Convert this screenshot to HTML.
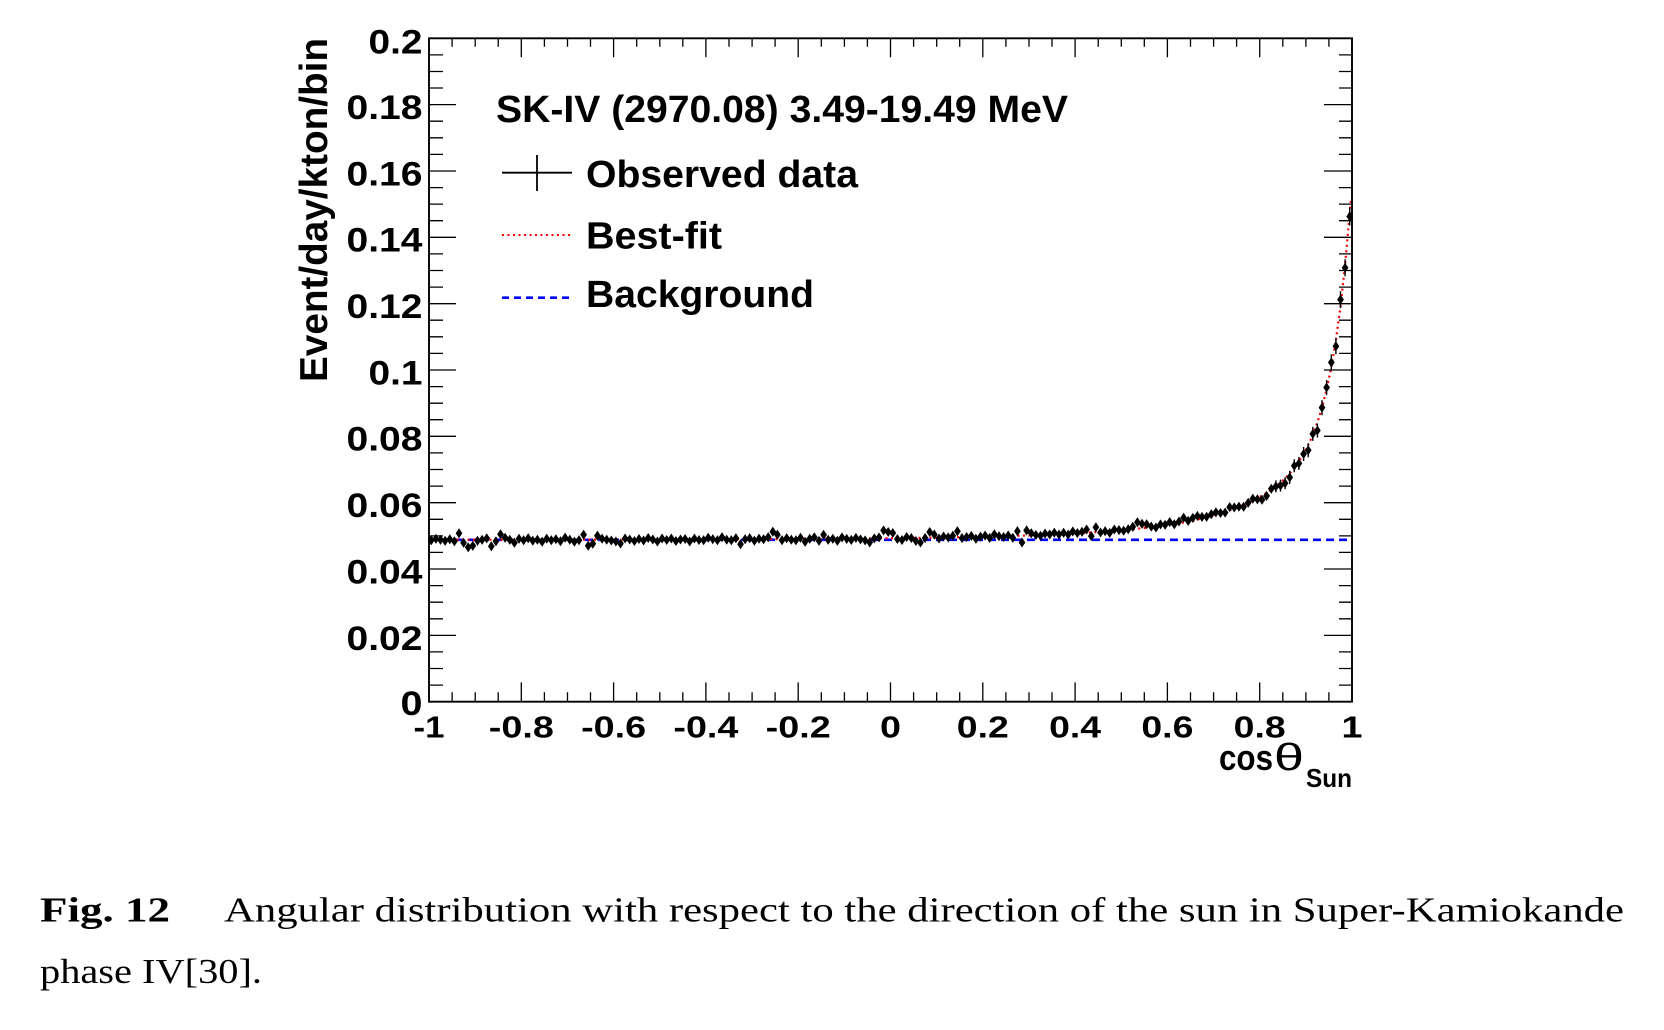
<!DOCTYPE html>
<html>
<head>
<meta charset="utf-8">
<style>
html,body{margin:0;padding:0;background:#fff;}
svg{display:block;}
.t{font-family:"Liberation Sans",Arial,sans-serif;font-weight:bold;fill:#000;}
.c{font-family:"Liberation Serif","Times New Roman",serif;fill:#000;}
</style>
</head>
<body>
<svg width="1664" height="1030" viewBox="0 0 1664 1030" xmlns="http://www.w3.org/2000/svg">
<defs>
<path id="m" d="M0 -4.5L3 0L0 4.5L-3 0Z" fill="#000" stroke="#000" stroke-width="0.6"/>
</defs>
<rect x="0" y="0" width="1664" height="1030" fill="#fff"/>

<!-- background dashed -->
<path d="M429 539.8H1352" stroke="#0000ff" stroke-width="2.6" stroke-dasharray="8 5" fill="none"/>
<!-- best fit dotted -->
<path d="M429 539.8L708.2 539.4L800.5 539.0L892.8 538.2L939 537.6L985.1 536.7L1031.3 535.4L1077.4 533.4L1100.5 531.8L1123.6 530.1L1146.6 527.8L1169.7 524.8L1192.8 520.9L1211.3 515.7L1215.9 514.3L1220.5 513.0L1225.1 511.6L1229.7 510.1L1234.3 508.4L1238.9 506.7L1243.6 504.8L1248.2 502.8L1252.8 500.7L1257.4 498.3L1262.0 495.7L1266.6 492.9L1271.3 489.8L1275.9 486.4L1280.5 482.6L1285.1 478.3L1289.7 473.4L1294.3 467.8L1298.9 461.4L1303.6 454.0L1308.2 445.2L1312.8 434.9L1317.4 422.5L1322.0 407.6L1326.6 389.5L1331.3 367.4L1335.9 340.2L1340.5 306.6L1345.1 264.8L1349.7 212.5L1351 200" stroke="#ff0000" stroke-width="2.2" stroke-dasharray="2 3.5" fill="none"/>

<!-- data markers -->
<path fill="#000" stroke="#000" stroke-width="0.6" d="M431.3 540.3m0-4.5l3 4.5-3 4.5-3-4.5zM435.9 538.8m0-4.5l3 4.5-3 4.5-3-4.5zM440.5 539.8m0-4.5l3 4.5-3 4.5-3-4.5zM445.1 540.8m0-4.5l3 4.5-3 4.5-3-4.5zM449.8 539.3m0-4.5l3 4.5-3 4.5-3-4.5zM454.4 541.3m0-4.5l3 4.5-3 4.5-3-4.5zM459.0 533.3m0-4.5l3 4.5-3 4.5-3-4.5zM463.6 542.8m0-4.5l3 4.5-3 4.5-3-4.5zM468.2 547.3m0-4.5l3 4.5-3 4.5-3-4.5zM472.8 545.8m0-4.5l3 4.5-3 4.5-3-4.5zM477.5 540.8m0-4.5l3 4.5-3 4.5-3-4.5zM482.1 539.8m0-4.5l3 4.5-3 4.5-3-4.5zM486.7 538.3m0-4.5l3 4.5-3 4.5-3-4.5zM491.3 546.3m0-4.5l3 4.5-3 4.5-3-4.5zM495.9 541.3m0-4.5l3 4.5-3 4.5-3-4.5zM500.5 534.3m0-4.5l3 4.5-3 4.5-3-4.5zM505.1 537.8m0-4.5l3 4.5-3 4.5-3-4.5zM509.8 539.8m0-4.5l3 4.5-3 4.5-3-4.5zM514.4 542.8m0-4.5l3 4.5-3 4.5-3-4.5zM519.0 538.8m0-4.5l3 4.5-3 4.5-3-4.5zM523.6 540.2m0-4.5l3 4.5-3 4.5-3-4.5zM528.2 538.2m0-4.5l3 4.5-3 4.5-3-4.5zM532.8 540.7m0-4.5l3 4.5-3 4.5-3-4.5zM537.4 539.7m0-4.5l3 4.5-3 4.5-3-4.5zM542.1 541.7m0-4.5l3 4.5-3 4.5-3-4.5zM546.7 538.7m0-4.5l3 4.5-3 4.5-3-4.5zM551.3 540.2m0-4.5l3 4.5-3 4.5-3-4.5zM555.9 539.2m0-4.5l3 4.5-3 4.5-3-4.5zM560.5 541.2m0-4.5l3 4.5-3 4.5-3-4.5zM565.1 537.7m0-4.5l3 4.5-3 4.5-3-4.5zM569.8 539.7m0-4.5l3 4.5-3 4.5-3-4.5zM574.4 541.7m0-4.5l3 4.5-3 4.5-3-4.5zM579.0 540.2m0-4.5l3 4.5-3 4.5-3-4.5zM583.6 534.7m0-4.5l3 4.5-3 4.5-3-4.5zM588.2 545.7m0-4.5l3 4.5-3 4.5-3-4.5zM592.8 543.7m0-4.5l3 4.5-3 4.5-3-4.5zM597.4 535.7m0-4.5l3 4.5-3 4.5-3-4.5zM602.1 538.7m0-4.5l3 4.5-3 4.5-3-4.5zM606.7 539.7m0-4.5l3 4.5-3 4.5-3-4.5zM611.3 540.5m0-4.5l3 4.5-3 4.5-3-4.5zM615.9 541.5m0-4.5l3 4.5-3 4.5-3-4.5zM620.5 543.5m0-4.5l3 4.5-3 4.5-3-4.5zM625.1 538.5m0-4.5l3 4.5-3 4.5-3-4.5zM629.7 539.5m0-4.5l3 4.5-3 4.5-3-4.5zM634.4 541.0m0-4.5l3 4.5-3 4.5-3-4.5zM639.0 539.0m0-4.5l3 4.5-3 4.5-3-4.5zM643.6 540.5m0-4.5l3 4.5-3 4.5-3-4.5zM648.2 538.0m0-4.5l3 4.5-3 4.5-3-4.5zM652.8 539.5m0-4.5l3 4.5-3 4.5-3-4.5zM657.4 541.5m0-4.5l3 4.5-3 4.5-3-4.5zM662.1 538.5m0-4.5l3 4.5-3 4.5-3-4.5zM666.7 540.0m0-4.5l3 4.5-3 4.5-3-4.5zM671.3 538.5m0-4.5l3 4.5-3 4.5-3-4.5zM675.9 541.0m0-4.5l3 4.5-3 4.5-3-4.5zM680.5 539.5m0-4.5l3 4.5-3 4.5-3-4.5zM685.1 539.0m0-4.5l3 4.5-3 4.5-3-4.5zM689.7 541.5m0-4.5l3 4.5-3 4.5-3-4.5zM694.4 538.5m0-4.5l3 4.5-3 4.5-3-4.5zM699.0 540.0m0-4.5l3 4.5-3 4.5-3-4.5zM703.6 540.2m0-4.5l3 4.5-3 4.5-3-4.5zM708.2 537.7m0-4.5l3 4.5-3 4.5-3-4.5zM712.8 539.2m0-4.5l3 4.5-3 4.5-3-4.5zM717.4 540.2m0-4.5l3 4.5-3 4.5-3-4.5zM722.0 537.2m0-4.5l3 4.5-3 4.5-3-4.5zM726.7 539.7m0-4.5l3 4.5-3 4.5-3-4.5zM731.3 540.2m0-4.5l3 4.5-3 4.5-3-4.5zM735.9 538.2m0-4.5l3 4.5-3 4.5-3-4.5zM740.5 544.2m0-4.5l3 4.5-3 4.5-3-4.5zM745.1 539.2m0-4.5l3 4.5-3 4.5-3-4.5zM749.7 538.2m0-4.5l3 4.5-3 4.5-3-4.5zM754.4 540.7m0-4.5l3 4.5-3 4.5-3-4.5zM759.0 538.7m0-4.5l3 4.5-3 4.5-3-4.5zM763.6 539.2m0-4.5l3 4.5-3 4.5-3-4.5zM768.2 537.2m0-4.5l3 4.5-3 4.5-3-4.5zM772.8 531.7m0-4.5l3 4.5-3 4.5-3-4.5zM777.4 534.7m0-4.5l3 4.5-3 4.5-3-4.5zM782.0 540.2m0-4.5l3 4.5-3 4.5-3-4.5zM786.7 538.2m0-4.5l3 4.5-3 4.5-3-4.5zM791.3 539.7m0-4.5l3 4.5-3 4.5-3-4.5zM795.9 540.3m0-4.5l3 4.5-3 4.5-3-4.5zM800.5 537.8m0-4.5l3 4.5-3 4.5-3-4.5zM805.1 541.8m0-4.5l3 4.5-3 4.5-3-4.5zM809.7 538.8m0-4.5l3 4.5-3 4.5-3-4.5zM814.3 537.3m0-4.5l3 4.5-3 4.5-3-4.5zM819.0 540.8m0-4.5l3 4.5-3 4.5-3-4.5zM823.6 534.8m0-4.5l3 4.5-3 4.5-3-4.5zM828.2 539.8m0-4.5l3 4.5-3 4.5-3-4.5zM832.8 538.8m0-4.5l3 4.5-3 4.5-3-4.5zM837.4 540.8m0-4.5l3 4.5-3 4.5-3-4.5zM842.0 537.4m0-4.5l3 4.5-3 4.5-3-4.5zM846.7 538.9m0-4.5l3 4.5-3 4.5-3-4.5zM851.3 539.9m0-4.5l3 4.5-3 4.5-3-4.5zM855.9 537.9m0-4.5l3 4.5-3 4.5-3-4.5zM860.5 539.4m0-4.5l3 4.5-3 4.5-3-4.5zM865.1 540.4m0-4.5l3 4.5-3 4.5-3-4.5zM869.7 542.4m0-4.5l3 4.5-3 4.5-3-4.5zM874.3 538.4m0-4.5l3 4.5-3 4.5-3-4.5zM879.0 537.4m0-4.5l3 4.5-3 4.5-3-4.5zM883.6 530.4m0-4.5l3 4.5-3 4.5-3-4.5zM888.2 532.0m0-4.5l3 4.5-3 4.5-3-4.5zM892.8 533.0m0-4.5l3 4.5-3 4.5-3-4.5zM897.4 539.0m0-4.5l3 4.5-3 4.5-3-4.5zM902.0 540.0m0-4.5l3 4.5-3 4.5-3-4.5zM906.7 537.0m0-4.5l3 4.5-3 4.5-3-4.5zM911.3 538.0m0-4.5l3 4.5-3 4.5-3-4.5zM915.9 541.0m0-4.5l3 4.5-3 4.5-3-4.5zM920.5 542.5m0-4.5l3 4.5-3 4.5-3-4.5zM925.1 538.0m0-4.5l3 4.5-3 4.5-3-4.5zM929.7 532.0m0-4.5l3 4.5-3 4.5-3-4.5zM934.3 534.6m0-4.5l3 4.5-3 4.5-3-4.5zM939.0 538.5m0-4.5l3 4.5-3 4.5-3-4.5zM943.6 536.5m0-4.5l3 4.5-3 4.5-3-4.5zM948.2 537.4m0-4.5l3 4.5-3 4.5-3-4.5zM952.8 535.8m0-4.5l3 4.5-3 4.5-3-4.5zM957.4 531.2m0-4.5l3 4.5-3 4.5-3-4.5zM962.0 538.1m0-4.5l3 4.5-3 4.5-3-4.5zM966.6 537.0m0-4.5l3 4.5-3 4.5-3-4.5zM971.3 535.9m0-4.5l3 4.5-3 4.5-3-4.5zM975.9 538.8m0-4.5l3 4.5-3 4.5-3-4.5zM980.5 536.7m0-4.5l3 4.5-3 4.5-3-4.5zM985.1 535.6m0-4.5l3 4.5-3 4.5-3-4.5zM989.7 537.9m0-4.5l3 4.5-3 4.5-3-4.5zM994.3 534.3m0-4.5l3 4.5-3 4.5-3-4.5zM999.0 536.2m0-4.5l3 4.5-3 4.5-3-4.5zM1003.6 537.0m0-4.5l3 4.5-3 4.5-3-4.5zM1008.2 535.4m0-4.5l3 4.5-3 4.5-3-4.5zM1012.8 537.8m0-4.5l3 4.5-3 4.5-3-4.5zM1017.4 531.2m0-4.5l3 4.5-3 4.5-3-4.5zM1022.0 542.5m0-4.5l3 4.5-3 4.5-3-4.5zM1026.6 530.4m0-4.5l3 4.5-3 4.5-3-4.5zM1031.3 533.2m0-4.5l3 4.5-3 4.5-3-4.5zM1035.9 535.0m0-4.5l3 4.5-3 4.5-3-4.5zM1040.5 535.8m0-4.5l3 4.5-3 4.5-3-4.5zM1045.1 533.6m0-4.5l3 4.5-3 4.5-3-4.5zM1049.7 534.4m0-4.5l3 4.5-3 4.5-3-4.5zM1054.3 532.7m0-4.5l3 4.5-3 4.5-3-4.5zM1059.0 534.5m0-4.5l3 4.5-3 4.5-3-4.5zM1063.6 532.8m0-4.5l3 4.5-3 4.5-3-4.5zM1068.2 534.6m0-4.5l3 4.5-3 4.5-3-4.5zM1072.8 531.4m0-4.5l3 4.5-3 4.5-3-4.5zM1077.4 533.1m0-4.5l3 4.5-3 4.5-3-4.5zM1082.0 531.8m0-4.5l3 4.5-3 4.5-3-4.5zM1086.6 529.5m0-4.5l3 4.5-3 4.5-3-4.5zM1091.3 536.1m0-4.5l3 4.5-3 4.5-3-4.5zM1095.9 527.3m0-4.5l3 4.5-3 4.5-3-4.5zM1100.5 532.5m0-4.5l3 4.5-3 4.5-3-4.5zM1105.1 531.2m0-4.5l3 4.5-3 4.5-3-4.5zM1109.7 532.9m0-4.5l3 4.5-3 4.5-3-4.5zM1114.3 529.5m0-4.5l3 4.5-3 4.5-3-4.5zM1119.0 530.1m0-4.5l3 4.5-3 4.5-3-4.5zM1123.6 530.7m0-4.5l3 4.5-3 4.5-3-4.5zM1128.2 529.2m0-4.5l3 4.5-3 4.5-3-4.5zM1132.8 526.8m0-4.5l3 4.5-3 4.5-3-4.5zM1137.4 522.3m0-4.5l3 4.5-3 4.5-3-4.5zM1142.0 523.8m0-4.5l3 4.5-3 4.5-3-4.5zM1146.6 524.2m0-4.5l3 4.5-3 4.5-3-4.5zM1151.3 526.6m0-4.5l3 4.5-3 4.5-3-4.5zM1155.9 527.5m0-4.5l3 4.5-3 4.5-3-4.5zM1160.5 524.4m0-4.5l3 4.5-3 4.5-3-4.5zM1165.1 524.8m0-4.5l3 4.5-3 4.5-3-4.5zM1169.7 522.1m0-4.5l3 4.5-3 4.5-3-4.5zM1174.3 524.3m0-4.5l3 4.5-3 4.5-3-4.5zM1179.0 521.5m0-4.5l3 4.5-3 4.5-3-4.5zM1183.6 517.7m0-4.5l3 4.5-3 4.5-3-4.5zM1188.2 520.9m0-4.5l3 4.5-3 4.5-3-4.5zM1192.8 517.9m0-4.5l3 4.5-3 4.5-3-4.5zM1197.4 515.9m0-4.5l3 4.5-3 4.5-3-4.5zM1202.0 516.9m0-4.5l3 4.5-3 4.5-3-4.5zM1206.6 516.8m0-4.5l3 4.5-3 4.5-3-4.5zM1211.3 514.2m0-4.5l3 4.5-3 4.5-3-4.5zM1215.9 512.3m0-4.5l3 4.5-3 4.5-3-4.5zM1220.5 513.0m0-4.5l3 4.5-3 4.5-3-4.5zM1225.1 512.6m0-4.5l3 4.5-3 4.5-3-4.5zM1229.7 507.1m0-4.5l3 4.5-3 4.5-3-4.5zM1234.3 507.4m0-4.5l3 4.5-3 4.5-3-4.5zM1238.9 506.7m0-4.5l3 4.5-3 4.5-3-4.5zM1243.6 506.8m0-4.5l3 4.5-3 4.5-3-4.5zM1248.2 502.8m0-4.5l3 4.5-3 4.5-3-4.5zM1252.8 498.7m0-4.5l3 4.5-3 4.5-3-4.5zM1257.4 499.3m0-4.5l3 4.5-3 4.5-3-4.5zM1262.0 499.7m0-4.5l3 4.5-3 4.5-3-4.5zM1266.6 495.9m0-4.5l3 4.5-3 4.5-3-4.5zM1271.3 488.8m0-4.5l3 4.5-3 4.5-3-4.5zM1275.9 486.4m0-4.5l3 4.5-3 4.5-3-4.5zM1280.5 485.6m0-4.5l3 4.5-3 4.5-3-4.5zM1285.1 483.3m0-4.5l3 4.5-3 4.5-3-4.5zM1289.7 477.4m0-4.5l3 4.5-3 4.5-3-4.5zM1294.3 465.8m0-4.5l3 4.5-3 4.5-3-4.5zM1298.9 463.4m0-4.5l3 4.5-3 4.5-3-4.5zM1303.6 454.0m0-4.5l3 4.5-3 4.5-3-4.5zM1308.2 450.2m0-4.5l3 4.5-3 4.5-3-4.5zM1312.8 433.9m0-4.5l3 4.5-3 4.5-3-4.5zM1317.4 430.5m0-4.5l3 4.5-3 4.5-3-4.5zM1322.0 407.6m0-4.5l3 4.5-3 4.5-3-4.5zM1326.6 387.5m0-4.5l3 4.5-3 4.5-3-4.5zM1331.3 362.4m0-4.5l3 4.5-3 4.5-3-4.5zM1335.9 346.2m0-4.5l3 4.5-3 4.5-3-4.5zM1340.5 299.6m0-4.5l3 4.5-3 4.5-3-4.5zM1345.1 267.8m0-4.5l3 4.5-3 4.5-3-4.5zM1349.7 216.5m0-4.5l3 4.5-3 4.5-3-4.5z"/>
<!-- error bars in the steep region -->
<path stroke="#000" stroke-width="1.4" fill="none" d="M1275.9 480.4v12M1280.5 479.6v12M1285.1 477.3v12M1289.7 470.9v13M1294.3 459.3v13M1298.9 456.9v13M1303.6 447v14M1308.2 443.2v14M1312.8 426.9v14M1317.4 423.5v14M1322.0 400.1v15M1326.6 380v15M1331.3 354.4v16M1335.9 338.2v16M1340.5 291.1v17M1345.1 259.3v17M1349.7 207.5v18M1273.6 486.4h4.6M1278.2 485.6h4.6M1282.8 483.3h4.6M1287.4 477.4h4.6M1292 465.8h4.6M1296.6 463.4h4.6M1301.3 454h4.6M1305.9 450.2h4.6M1310.5 433.9h4.6M1315.1 430.5h4.6M1319.7 407.6h4.6M1324.3 387.5h4.6M1329 362.4h4.6M1333.6 346.2h4.6M1338.2 299.6h4.6M1342.8 267.8h4.6M1347.4 216.5h4.6"/>

<!-- frame -->
<rect x="429" y="38.3" width="923" height="663.4" fill="none" stroke="#000" stroke-width="1.9"/>

<!-- ticks -->
<path stroke="#000" stroke-width="1.3" fill="none" d="
M521.3 701.7v-19.3M613.6 701.7v-19.3M705.9 701.7v-19.3M798.2 701.7v-19.3M890.5 701.7v-19.3M982.8 701.7v-19.3M1075.1 701.7v-19.3M1167.4 701.7v-19.3M1259.7 701.7v-19.3
M452.1 701.7v-9.5M475.2 701.7v-9.5M498.2 701.7v-9.5M544.4 701.7v-9.5M567.5 701.7v-9.5M590.5 701.7v-9.5M636.7 701.7v-9.5M659.8 701.7v-9.5M682.8 701.7v-9.5M729.0 701.7v-9.5M752.1 701.7v-9.5M775.1 701.7v-9.5M821.3 701.7v-9.5M844.4 701.7v-9.5M867.4 701.7v-9.5M913.6 701.7v-9.5M936.7 701.7v-9.5M959.7 701.7v-9.5M1005.9 701.7v-9.5M1029.0 701.7v-9.5M1052.0 701.7v-9.5M1098.2 701.7v-9.5M1121.3 701.7v-9.5M1144.3 701.7v-9.5M1190.5 701.7v-9.5M1213.6 701.7v-9.5M1236.6 701.7v-9.5M1282.8 701.7v-9.5M1305.9 701.7v-9.5M1328.9 701.7v-9.5
M521.3 38.3v19M613.6 38.3v19M705.9 38.3v19M798.2 38.3v19M890.5 38.3v19M982.8 38.3v19M1075.1 38.3v19M1167.4 38.3v19M1259.7 38.3v19
M452.1 38.3v8.5M475.2 38.3v8.5M498.2 38.3v8.5M544.4 38.3v8.5M567.5 38.3v8.5M590.5 38.3v8.5M636.7 38.3v8.5M659.8 38.3v8.5M682.8 38.3v8.5M729.0 38.3v8.5M752.1 38.3v8.5M775.1 38.3v8.5M821.3 38.3v8.5M844.4 38.3v8.5M867.4 38.3v8.5M913.6 38.3v8.5M936.7 38.3v8.5M959.7 38.3v8.5M1005.9 38.3v8.5M1029.0 38.3v8.5M1052.0 38.3v8.5M1098.2 38.3v8.5M1121.3 38.3v8.5M1144.3 38.3v8.5M1190.5 38.3v8.5M1213.6 38.3v8.5M1236.6 38.3v8.5M1282.8 38.3v8.5M1305.9 38.3v8.5M1328.9 38.3v8.5
M429 635.4h27M429 569.0h27M429 502.7h27M429 436.3h27M429 370.0h27M429 303.7h27M429 237.3h27M429 171.0h27M429 104.6h27
M429 685.1h14M429 668.5h14M429 651.9h14M429 618.8h14M429 602.2h14M429 585.6h14M429 552.4h14M429 535.9h14M429 519.3h14M429 486.1h14M429 469.5h14M429 452.9h14M429 419.7h14M429 403.2h14M429 386.6h14M429 353.4h14M429 336.8h14M429 320.2h14M429 287.1h14M429 270.5h14M429 253.9h14M429 220.7h14M429 204.1h14M429 187.6h14M429 154.4h14M429 137.8h14M429 121.2h14M429 88.0h14M429 71.5h14M429 54.9h14
M1352 635.4h-28M1352 569.0h-28M1352 502.7h-28M1352 436.3h-28M1352 370.0h-28M1352 303.7h-28M1352 237.3h-28M1352 171.0h-28M1352 104.6h-28
M1352 685.1h-13M1352 668.5h-13M1352 651.9h-13M1352 618.8h-13M1352 602.2h-13M1352 585.6h-13M1352 552.4h-13M1352 535.9h-13M1352 519.3h-13M1352 486.1h-13M1352 469.5h-13M1352 452.9h-13M1352 419.7h-13M1352 403.2h-13M1352 386.6h-13M1352 353.4h-13M1352 336.8h-13M1352 320.2h-13M1352 287.1h-13M1352 270.5h-13M1352 253.9h-13M1352 220.7h-13M1352 204.1h-13M1352 187.6h-13M1352 154.4h-13M1352 137.8h-13M1352 121.2h-13M1352 88.0h-13M1352 71.5h-13M1352 54.9h-13"/>

<!-- Y tick labels -->
<g class="t" font-size="34">
<text x="368.5" y="53.3" textLength="54" lengthAdjust="spacingAndGlyphs">0.2</text>
<text x="346.5" y="119" textLength="76" lengthAdjust="spacingAndGlyphs">0.18</text>
<text x="346.5" y="185.4" textLength="76" lengthAdjust="spacingAndGlyphs">0.16</text>
<text x="346.5" y="251.7" textLength="76" lengthAdjust="spacingAndGlyphs">0.14</text>
<text x="346.5" y="318.1" textLength="76" lengthAdjust="spacingAndGlyphs">0.12</text>
<text x="368.5" y="384.4" textLength="54" lengthAdjust="spacingAndGlyphs">0.1</text>
<text x="346.5" y="450.7" textLength="76" lengthAdjust="spacingAndGlyphs">0.08</text>
<text x="346.5" y="517.1" textLength="76" lengthAdjust="spacingAndGlyphs">0.06</text>
<text x="346.5" y="583.4" textLength="76" lengthAdjust="spacingAndGlyphs">0.04</text>
<text x="346.5" y="649.8" textLength="76" lengthAdjust="spacingAndGlyphs">0.02</text>
<text x="400.5" y="715" textLength="22" lengthAdjust="spacingAndGlyphs">0</text>
</g>

<!-- X tick labels -->
<g class="t" font-size="31">
<text x="413.5" y="737.3" textLength="31" lengthAdjust="spacingAndGlyphs">-1</text>
<text x="488.8" y="737.3" textLength="65" lengthAdjust="spacingAndGlyphs">-0.8</text>
<text x="581.1" y="737.3" textLength="65" lengthAdjust="spacingAndGlyphs">-0.6</text>
<text x="673.4" y="737.3" textLength="65" lengthAdjust="spacingAndGlyphs">-0.4</text>
<text x="765.7" y="737.3" textLength="65" lengthAdjust="spacingAndGlyphs">-0.2</text>
<text x="880" y="737.3" textLength="21" lengthAdjust="spacingAndGlyphs">0</text>
<text x="956.8" y="737.3" textLength="52" lengthAdjust="spacingAndGlyphs">0.2</text>
<text x="1049.1" y="737.3" textLength="52" lengthAdjust="spacingAndGlyphs">0.4</text>
<text x="1141.4" y="737.3" textLength="52" lengthAdjust="spacingAndGlyphs">0.6</text>
<text x="1233.7" y="737.3" textLength="52" lengthAdjust="spacingAndGlyphs">0.8</text>
<text x="1341.5" y="737.3" textLength="21" lengthAdjust="spacingAndGlyphs">1</text>
</g>

<!-- X axis title -->
<text class="t" x="1219" y="770" font-size="36" textLength="54" lengthAdjust="spacingAndGlyphs">cos</text>
<text x="1274" y="770" font-size="38" font-family="Liberation Sans, DejaVu Sans, sans-serif" textLength="30" lengthAdjust="spacingAndGlyphs" fill="#000">θ</text>
<text class="t" x="1306" y="787" font-size="26" textLength="46" lengthAdjust="spacingAndGlyphs">Sun</text>

<!-- Y axis title -->
<text class="t" font-size="39" transform="translate(327,382) rotate(-90)" x="0" y="0" textLength="344" lengthAdjust="spacingAndGlyphs">Event/day/kton/bin</text>

<!-- Legend -->
<text class="t" x="496" y="122" font-size="38" textLength="572" lengthAdjust="spacingAndGlyphs">SK-IV (2970.08) 3.49-19.49 MeV</text>
<path d="M502 172.7H572M537 155V191" stroke="#000" stroke-width="1.8" fill="none"/>
<text class="t" x="586" y="187" font-size="38" textLength="272" lengthAdjust="spacingAndGlyphs">Observed data</text>
<path d="M502 235H572" stroke="#ff0000" stroke-width="2" stroke-dasharray="2 3.5" fill="none"/>
<text class="t" x="586" y="248.5" font-size="38" textLength="136" lengthAdjust="spacingAndGlyphs">Best-fit</text>
<path d="M502 297.7H570" stroke="#0000ff" stroke-width="2.6" stroke-dasharray="7 5" fill="none"/>
<text class="t" x="586" y="307" font-size="38" textLength="228" lengthAdjust="spacingAndGlyphs">Background</text>

<!-- Caption -->
<text class="c" x="40" y="921.5" font-size="35" font-weight="bold" textLength="130" lengthAdjust="spacingAndGlyphs">Fig. 12</text>
<text class="c" x="224" y="921.5" font-size="35" textLength="1400" lengthAdjust="spacingAndGlyphs">Angular distribution with respect to the direction of the sun in Super-Kamiokande</text>
<text class="c" x="40" y="983" font-size="35" textLength="222" lengthAdjust="spacingAndGlyphs">phase IV[30].</text>
</svg>
</body>
</html>
